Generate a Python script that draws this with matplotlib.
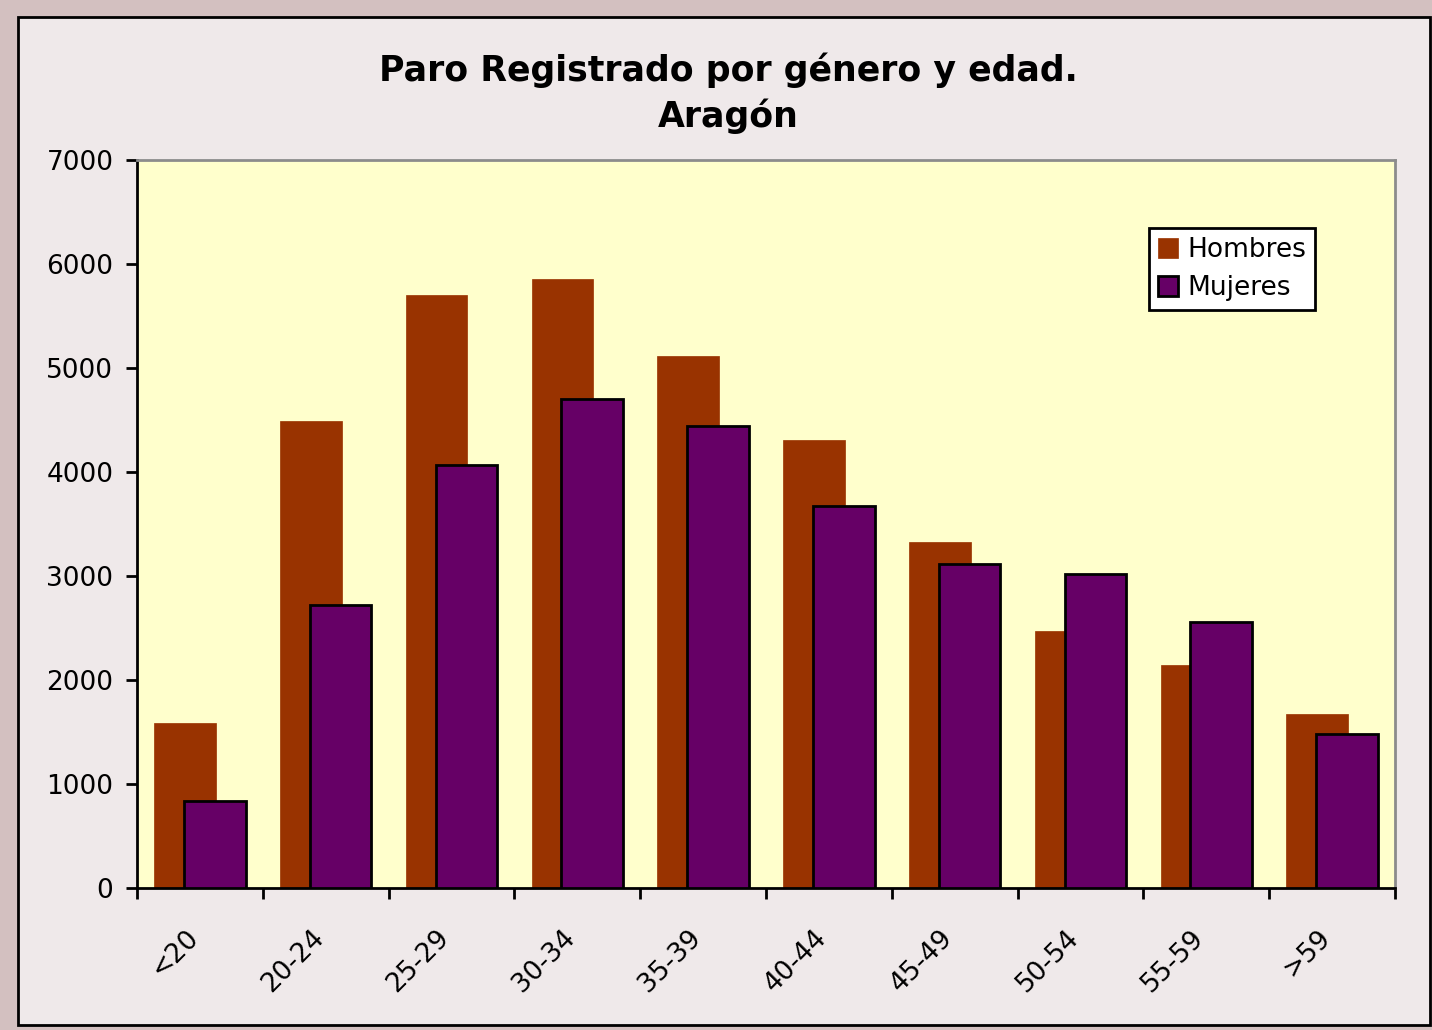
import matplotlib
matplotlib.use("Agg")
import matplotlib.pyplot as plt
import matplotlib.transforms as mtransforms
import numpy as np
from matplotlib.patches import Rectangle

categories = ["<20", "20-24", "25-29", "30-34", "35-39", "40-44", "45-49", "50-54", "55-59", ">59"]
hombres = [1590, 4490, 5700, 5860, 5120, 4310, 3330, 2470, 2145, 1675]
mujeres = [840, 2720, 4070, 4700, 4440, 3670, 3115, 3020, 2560, 1480]
yticks = [0, 1000, 2000, 3000, 4000, 5000, 6000, 7000]

W, H = 1432, 1030
fig = plt.figure(figsize=(W / 100, H / 100), dpi=100)
fig.patch.set_facecolor("#d3c0c0")
panel = Rectangle((18 / W, 1 - 1025 / H), (1430 - 18) / W, (1025 - 17) / H,
                  transform=fig.transFigure, facecolor="#efe9ea", edgecolor="black",
                  linewidth=2, zorder=-10)
fig.patches.append(panel)

ax = fig.add_axes([137 / W, 1 - 888 / H, (1395 - 137) / W, (888 - 160) / H])
ax.set_facecolor("#ffffcc")

x = np.arange(len(categories))
w = 0.49
off = 0.118
ax.bar(x - off, hombres, width=w, color="#993300", edgecolor="#993300", linewidth=0.5,
       label="Hombres", zorder=2)
ax.bar(x + off, mujeres, width=w, color="#660066", edgecolor="black", linewidth=2,
       label="Mujeres", zorder=3)

ax.set_xlim(-0.5, len(categories) - 0.5)
ax.set_ylim(0, 7000)
ax.set_yticks(yticks)
ax.set_yticklabels([str(v) for v in yticks], fontsize=19)
ax.set_xticks(np.arange(len(categories) + 1) - 0.5, minor=False)
ax.set_xticklabels([])
ax.set_xticks(x, minor=True)
ax.set_xticklabels(categories, minor=True, rotation=45, ha="right", va="top",
                   rotation_mode="anchor", fontsize=19)
ax.tick_params(axis="x", which="minor", length=0, pad=22)
ax.tick_params(axis="x", which="major", length=8, width=2, direction="out")
ax.tick_params(axis="y", length=8, width=2, direction="out", pad=9)

shift = mtransforms.ScaledTranslation(-15 / 100, -6 / 100, fig.dpi_scale_trans)
for lab in ax.get_xticklabels(minor=True):
    lab.set_transform(lab.get_transform() + shift)

for s in ["left", "bottom"]:
    ax.spines[s].set_linewidth(2)
    ax.spines[s].set_color("black")
for s in ["top", "right"]:
    ax.spines[s].set_linewidth(2)
    ax.spines[s].set_color("#8c8c8c")

fig.text(728 / W, 1 - 93 / H, "Paro Registrado por género y edad.\nAragón",
         ha="center", va="center", fontsize=25, fontweight="bold", linespacing=1.38)

leg = ax.legend(loc="upper left", bbox_to_anchor=((1149 - 137) / (1395 - 137), (888 - 228) / (888 - 160)),
                fontsize=19, frameon=True, fancybox=False, handlelength=0.75, handleheight=0.75,
                handletextpad=0.35, borderpad=0.35, labelspacing=0.45, borderaxespad=0)
leg.get_frame().set_edgecolor("black")
leg.get_frame().set_linewidth(2)
leg.get_frame().set_facecolor("white")
leg.get_frame().set_alpha(1)

fig.savefig("out.png", dpi=100, facecolor=fig.get_facecolor())
